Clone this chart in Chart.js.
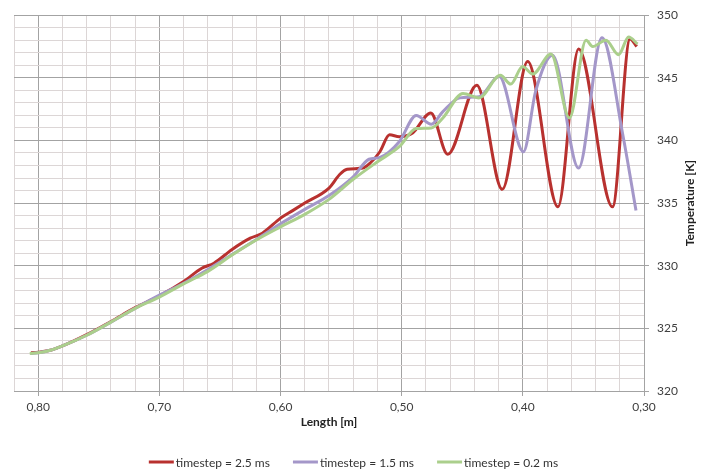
<!DOCTYPE html>
<html>
<head>
<meta charset="utf-8">
<title>Temperature along length</title>
<script src="https://cdn.jsdelivr.net/npm/chart.js@4.4.1/dist/chart.umd.min.js"></script>
<style>
  html, body { margin: 0; padding: 0; background: #fff; }
</style>
</head>
<body>
<canvas id="tempChart" width="707" height="470"></canvas>
<script>
// Series names
const seriesLabels = ['timestep = 2.5 ms', 'timestep = 1.5 ms', 'timestep = 0.2 ms'];
const seriesColors = ['#b8312f', '#a497c9', '#abcf8c'];

// timestep = 2.5 ms
const lenRed = [0.806, 0.800, 0.790, 0.780, 0.760, 0.740, 0.720, 0.700, 0.680, 0.665, 0.655, 0.640, 0.625, 0.615, 0.600,
  0.590, 0.580, 0.560, 0.551, 0.545, 0.532, 0.526, 0.518, 0.510, 0.502, 0.491, 0.476, 0.462, 0.438, 0.417, 0.396,
  0.371, 0.354, 0.326, 0.3115, 0.306];
const tempRed = [323.05, 323.1, 323.25, 323.6, 324.5, 325.55, 326.65, 327.6, 328.75, 329.8, 330.2, 331.3, 332.2, 332.6, 333.8,
  334.4, 335.0, 336.2, 337.3, 337.7, 337.8, 338.2, 339.1, 340.45, 340.3, 340.6, 342.2, 338.9, 344.4, 336.1, 346.3,
  334.7, 347.3, 334.7, 348.1, 347.5];

// timestep = 1.5 ms
const lenPur = [0.806, 0.800, 0.790, 0.780, 0.760, 0.740, 0.720, 0.700, 0.680, 0.660, 0.640, 0.620, 0.600, 0.580, 0.560,
  0.540, 0.527, 0.518, 0.502, 0.488, 0.4755, 0.466, 0.452, 0.436, 0.4195, 0.3995, 0.3895, 0.3755, 0.354, 0.3347,
  0.3175, 0.3066];
const tempPur = [323.0, 323.05, 323.25, 323.6, 324.45, 325.5, 326.6, 327.65, 328.6, 329.7, 330.9, 332.1, 333.35, 334.5, 335.6,
  337.1, 338.5, 338.65, 339.9, 342.0, 341.3, 342.3, 343.4, 343.5, 345.1, 339.1, 343.9, 346.8, 337.8, 348.2,
  340.45, 334.4];

// timestep = 0.2 ms
const lenGrn = [0.807, 0.800, 0.790, 0.780, 0.760, 0.740, 0.720, 0.700, 0.680, 0.660, 0.640, 0.620, 0.600, 0.580, 0.560,
  0.540, 0.520, 0.502, 0.488, 0.4755, 0.466, 0.4494, 0.4362, 0.4185, 0.410, 0.4002, 0.3919, 0.3768, 0.3615, 0.3478,
  0.3424, 0.3314, 0.321, 0.3127, 0.3053];
const tempGrn = [323.0, 323.05, 323.25, 323.6, 324.45, 325.5, 326.6, 327.5, 328.55, 329.55, 330.85, 332.05, 333.1, 334.1, 335.3,
  336.9, 338.3, 339.5, 340.95, 341.0, 341.8, 343.75, 343.4, 345.2, 344.5, 345.9, 345.3, 346.9, 341.8, 348.0,
  347.5, 348.0, 346.85, 348.25, 347.7];

// Labelled (major) ticks
const xMajorTicks = [0.80, 0.70, 0.60, 0.50, 0.40, 0.30];
const xTickLabels = ['0,80', '0,70', '0,60', '0,50', '0,40', '0,30'];
const yMajorTicks = [320, 325, 330, 335, 340, 345, 350];
const yTickLabels = ['320', '325', '330', '335', '340', '345', '350'];

const FONT = "Lato, 'Open Sans', sans-serif";
const MAJOR_GRID = '#a3a3a3';
const MINOR_GRID = '#dcd6d6';

function toPoints(xs, ys) {
  return xs.map((x, i) => ({ x: x, y: ys[i] }));
}

function majorIndex(value, majors) {
  return majors.findIndex((m) => Math.abs(m - value) < 1e-6);
}

// Axis title on the right, reading bottom to top, plus the legend row
const extrasPlugin = {
  id: 'extras',
  afterDraw(chart) {
    const { ctx, chartArea } = chart;
    ctx.save();
    ctx.font = 'bold 12px ' + FONT;
    ctx.fillStyle = '#222';
    ctx.textAlign = 'center';
    ctx.textBaseline = 'middle';
    ctx.translate(690, (chartArea.top + chartArea.bottom) / 2);
    ctx.rotate(-Math.PI / 2);
    ctx.fillText('Temperature [K]', 0, 0);
    ctx.restore();

    ctx.save();
    ctx.font = '12px ' + FONT;
    ctx.textBaseline = 'middle';
    ctx.textAlign = 'left';
    const lineLen = 25, gap = 2, spacing = 23, y = 462;
    const widths = seriesLabels.map((t) => ctx.measureText(t).width);
    const total = widths.reduce((a, w) => a + lineLen + gap + w, 0) + spacing * (seriesLabels.length - 1);
    let x = (chart.width - total) / 2;
    seriesLabels.forEach((label, i) => {
      ctx.strokeStyle = seriesColors[i];
      ctx.lineWidth = 3;
      ctx.beginPath();
      ctx.moveTo(x, y);
      ctx.lineTo(x + lineLen, y);
      ctx.stroke();
      ctx.fillStyle = '#333';
      ctx.fillText(label, x + lineLen + gap, y + 1);
      x += lineLen + gap + widths[i] + spacing;
    });
    ctx.restore();
  }
};

Chart.defaults.font.family = FONT;
Chart.defaults.font.size = 12;

const lineStyle = {
  pointRadius: 0,
  borderWidth: 3,
  fill: false,
  cubicInterpolationMode: 'monotone',
};

new Chart(document.getElementById('tempChart'), {
  type: 'line',
  data: {
    datasets: [
      { ...lineStyle, label: seriesLabels[0], data: toPoints(lenRed, tempRed), borderColor: seriesColors[0], order: 3 },
      { ...lineStyle, label: seriesLabels[1], data: toPoints(lenPur, tempPur), borderColor: seriesColors[1], order: 2 },
      { ...lineStyle, label: seriesLabels[2], data: toPoints(lenGrn, tempGrn), borderColor: seriesColors[2], order: 1 },
    ],
  },
  options: {
    responsive: false,
    animation: false,
    layout: { padding: { left: 14, top: 13, right: 0, bottom: 0 } },
    plugins: {
      legend: { display: false },
      tooltip: { enabled: false },
    },
    scales: {
      x: {
        type: 'linear',
        reverse: true,
        min: 0.30,
        max: 0.82,
        afterFit: (s) => { s.height = 79; },
        title: {
          display: true,
          text: 'Length [m]',
          color: '#222',
          font: { weight: 'bold', size: 12 },
          padding: { top: 0, bottom: 41 },
        },
        ticks: {
          stepSize: 0.02,
          autoSkip: false,
          maxRotation: 0,
          padding: 4,
          color: '#404040',
          callback: (v) => {
            const i = majorIndex(v, xMajorTicks);
            return i >= 0 ? xTickLabels[i] : '';
          },
        },
        grid: {
          tickLength: 5,
          color: (c) => (majorIndex(c.tick.value, xMajorTicks) >= 0 ? MAJOR_GRID : MINOR_GRID),
          tickColor: (c) => (majorIndex(c.tick.value, xMajorTicks) >= 0 ? MAJOR_GRID : 'rgba(0,0,0,0)'),
        },
        border: { color: MAJOR_GRID },
      },
      y: {
        position: 'right',
        min: 320,
        max: 350,
        afterFit: (s) => { s.width = 63; },
        ticks: {
          stepSize: 1,
          autoSkip: false,
          padding: 8,
          color: '#404040',
          callback: (v) => {
            const i = majorIndex(v, yMajorTicks);
            return i >= 0 ? yTickLabels[i] : '';
          },
        },
        grid: {
          tickLength: 5,
          color: (c) => (majorIndex(c.tick.value, yMajorTicks) >= 0 ? MAJOR_GRID : MINOR_GRID),
          tickColor: (c) => (majorIndex(c.tick.value, yMajorTicks) >= 0 ? MAJOR_GRID : 'rgba(0,0,0,0)'),
        },
        border: { color: MAJOR_GRID },
      },
    },
  },
  plugins: [extrasPlugin],
});
</script>
</body>
</html>
